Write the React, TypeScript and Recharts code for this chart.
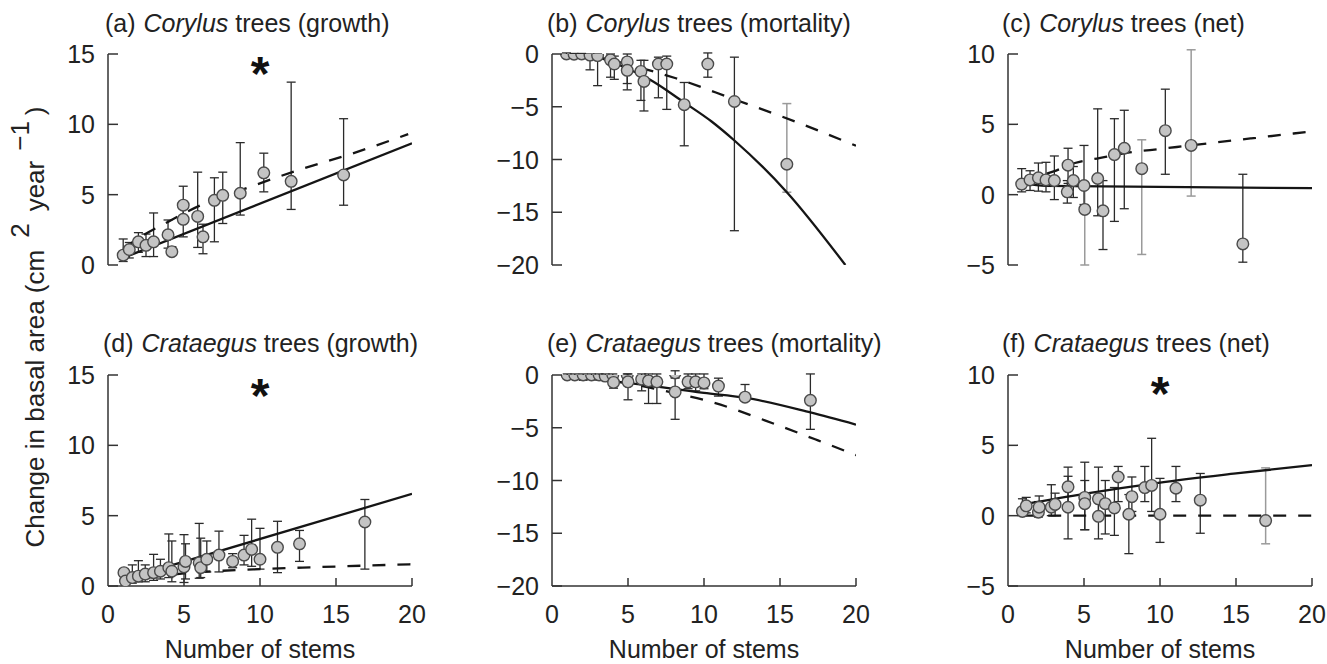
import React from 'react';
import { ComposedChart, Scatter, Line, XAxis, YAxis, ErrorBar } from 'recharts';

// Each point: [number of stems, mean change, lower bound, upper bound]
type Pt = [number, number, number, number];
// Fitted curve vertices: [number of stems, change]
type XY = [number, number];

const FONT = '"Liberation Sans", Arial, Helvetica, sans-serif';
const AXIS = '#333';

const xTicks = [0, 5, 10, 15, 20];
const growthTicks = [0, 5, 10, 15];
const mortalityTicks = [-20, -15, -10, -5, 0];
const netTicks = [-5, 0, 5, 10];

// ---- (a) Corylus growth ----
const corylusGrowthPoints: Pt[] = [
  [1.0, 0.7, 0.25, 1.85], [1.4, 1.1, 0.5, 1.6], [2.0, 1.65, 0.9, 2.3], [2.5, 1.4, 0.6, 2.2],
  [3.0, 1.65, 0.6, 3.7], [3.95, 2.15, 1.2, 3.2], [4.2, 0.95, 0.7, 1.3], [4.95, 4.25, 3.0, 5.6],
  [4.95, 3.25, 2.0, 4.0], [5.9, 3.45, 1.25, 6.6], [6.25, 2.0, 0.8, 2.9], [7.0, 4.6, 1.65, 6.2],
  [7.55, 4.95, 2.95, 6.6], [8.7, 5.1, 3.55, 8.7], [10.25, 6.55, 5.2, 7.95], [12.05, 5.95, 3.95, 13.0],
  [15.5, 6.4, 4.25, 10.4],
];
const corylusGrowthSolid: XY[] = [[1, 0.5], [20, 8.65]];
const corylusGrowthDashed: XY[] = [[1, 1.15], [2, 1.9], [4, 3.1], [6, 4.2], [8.7, 5.3], [12.4, 6.7], [16, 7.9], [19.75, 9.3]];

// ---- (b) Corylus mortality ----
const corylusMortalityPoints: Pt[] = [
  [0.95, 0, -0.15, 0.1], [1.45, -0.02, -0.2, 0.05], [1.95, 0, -0.3, 0.05], [2.5, -0.1, -1.5, 0],
  [3.0, -0.15, -3.0, 0], [3.85, -0.55, -2.2, 0], [4.1, -0.95, -2.4, -0.2], [4.95, -0.75, -3.4, 0],
  [4.95, -1.55, -2.8, -0.4], [5.85, -1.65, -4.4, -0.6], [6.05, -2.6, -5.4, -0.6], [7.0, -0.95, -4.15, -0.3],
  [7.55, -0.95, -5.25, -0.2], [8.7, -4.8, -8.7, -2.7], [10.25, -0.95, -2.2, 0.1], [12.0, -4.5, -16.75, -0.3],
];
const corylusMortalityGreyBars: Pt[] = [[15.45, -10.45, -13.1, -4.7]];
const corylusMortalitySolid: XY[] = [[1, 0], [2, -0.05], [3, -0.3], [4, -0.8], [5, -1.4], [6.4, -2.4], [8.7, -4.6], [10.5, -6.4], [12, -8.2], [15.45, -13.1], [19.3, -20]];
const corylusMortalityDashed: XY[] = [[1, 0], [3, -0.3], [5, -1.0], [8.15, -2.3], [12, -4.3], [16, -6.4], [20, -8.7]];

// ---- (c) Corylus net ----
const corylusNetPoints: Pt[] = [
  [0.9, 0.75, 0.2, 1.85], [1.45, 1.05, 0.3, 1.7], [2.0, 1.2, 0.25, 2.25], [2.5, 1.05, 0.2, 2.3],
  [3.05, 1.0, -0.35, 2.75], [3.95, 2.1, 0.8, 3.3], [3.9, 0.2, -0.6, 1.0], [4.3, 1.0, -0.2, 2.0],
  [5.0, 0.65, -0.7, 3.5], [5.9, 1.15, -1.5, 6.1], [6.25, -1.15, -3.9, 1.0], [7.0, 2.85, -1.9, 5.4],
  [7.65, 3.3, -1.0, 6.0], [10.35, 4.55, 1.45, 7.5], [15.45, -3.5, -4.8, 1.45],
];
const corylusNetGreyBars: Pt[] = [[5.05, -1.05, -5.0, 0.5], [8.8, 1.85, -4.25, 3.9], [12.05, 3.5, -0.1, 10.3]];
const corylusNetSolid: XY[] = [[1, 0.8], [2.5, 0.62], [20, 0.47]];
const corylusNetDashed: XY[] = [[1, 0.9], [2, 1.3], [3, 1.65], [4.4, 2.25], [6, 2.6], [8, 3.0], [10, 3.25], [12, 3.5], [16, 4.0], [20, 4.5]];

// ---- (d) Crataegus growth ----
const crataegusGrowthPoints: Pt[] = [
  [1.05, 0.95, 0.3, 1.2], [1.15, 0.35, 0.1, 0.9], [1.6, 0.6, 0.2, 1.5], [2.0, 0.7, 0.3, 1.8],
  [2.45, 0.85, 0.3, 1.5], [3.0, 0.95, 0.4, 2.25], [3.45, 1.05, 0.5, 1.9], [4.0, 1.3, 0.6, 3.7],
  [4.2, 1.05, 0.3, 3.2], [5.0, 1.35, 0.25, 3.65], [5.1, 1.75, 0.5, 3.0], [6.0, 1.65, 0.55, 4.45],
  [6.1, 1.3, 0.6, 3.4], [6.5, 1.9, 1.0, 3.2], [7.3, 2.2, 1.0, 3.9], [8.2, 1.75, 1.3, 2.3],
  [8.95, 2.2, 1.5, 3.6], [9.45, 2.6, 1.4, 4.75], [10.0, 1.9, 1.2, 4.1], [11.15, 2.75, 0.95, 4.6],
  [12.6, 3.0, 1.75, 3.95], [16.9, 4.55, 1.2, 6.15],
];
const crataegusGrowthSolid: XY[] = [[1, 0.45], [20, 6.55]];
const crataegusGrowthDashed: XY[] = [[1, 0.3], [3, 0.65], [5, 0.9], [7, 1.05], [10, 1.2], [14, 1.35], [20, 1.55]];

// ---- (e) Crataegus mortality ----
const crataegusMortalityPoints: Pt[] = [
  [1.0, 0, -0.3, 0.1], [1.5, 0, -0.3, 0.1], [2.05, 0, -0.5, 0.1], [2.6, 0, -0.3, 0.1],
  [3.1, 0, -0.4, 0.1], [3.5, -0.1, -0.5, 0.1], [4.0, 0, -0.6, 0.1], [4.05, -0.7, -1.25, -0.2],
  [4.95, 0, -0.6, 0.1], [5.0, -0.65, -2.35, 0.1], [5.9, -0.4, -1.5, 0.1], [6.35, -0.55, -2.7, 0.1],
  [6.9, -0.65, -2.7, 0.1], [8.1, 0.2, -0.2, 0.4], [8.1, -1.6, -4.2, -0.3], [8.95, -0.65, -1.3, 0.1],
  [9.45, -0.65, -1.5, 0.1], [10.0, -0.75, -1.3, 0.1], [10.95, -1.05, -2.0, -0.3], [12.7, -2.1, -2.4, -0.9],
  [17.0, -2.4, -5.15, 0.1],
];
const crataegusMortalitySolid: XY[] = [[1, -0.15], [5, -0.75], [10, -1.7], [12.7, -2.15], [17, -3.55], [20, -4.7]];
const crataegusMortalityDashed: XY[] = [[1, -0.1], [5, -0.8], [8, -1.7], [10.6, -2.6], [14, -4.3], [17.5, -6.2], [20, -7.6]];

// ---- (f) Crataegus net ----
const crataegusNetPoints: Pt[] = [
  [0.95, 0.3, 0.0, 1.2], [1.2, 0.7, 0.2, 1.3], [2.0, 0.25, -0.1, 1.0], [2.05, 0.6, 0.1, 1.4],
  [2.85, 0.6, 0.0, 2.2], [3.1, 0.8, 0.0, 1.6], [3.95, 2.05, 0.8, 3.45], [3.95, 0.6, -1.65, 2.8],
  [5.05, 1.3, -1.0, 3.8], [5.05, 0.85, -1.0, 2.5], [5.95, 1.2, 0.0, 3.45], [5.95, -0.05, -1.65, 1.5],
  [6.4, 0.85, -1.3, 2.5], [7.0, 0.55, -1.4, 2.0], [7.25, 2.75, 1.0, 3.5], [7.95, 0.1, -2.7, 1.5],
  [8.15, 1.35, 0.3, 2.75], [9.0, 2.0, 1.0, 3.5], [9.45, 2.15, 0.3, 5.5], [10.0, 0.1, -1.9, 2.65],
  [11.05, 1.95, 1.0, 3.5], [12.65, 1.1, -1.25, 3.0],
];
const crataegusNetGreyBars: Pt[] = [[16.95, -0.35, -2.0, 3.4]];
const crataegusNetSolid: XY[] = [[1, 0.8], [5, 1.55], [10, 2.35], [15, 3.0], [20, 3.6]];
const crataegusNetDashed: XY[] = [[1, 0], [20, 0]];

const toRows = (pts: Pt[]) => pts.map(([x, y, lo, hi]) => ({ x, y, err: [y - lo, hi - y] }));
const toLine = (pts: XY[]) => pts.map(([x, y]) => ({ x, y }));
const fmt = (v: number) => (v < 0 ? `\u2212${Math.abs(v)}` : `${v}`);

const Y_GAP = 13;
const X_GAP = 19;

const YTick = (props: any) => {
  const { x, y, payload } = props;
  const ax = x + Y_GAP;
  return (
    <g>
      <line x1={ax} x2={ax + 10} y1={y} y2={y} stroke={AXIS} strokeWidth={1.5} />
      <text x={x} y={y} dy="0.36em" textAnchor="end" fontSize={25} fill="#222" fontFamily={FONT}>
        {fmt(payload.value)}
      </text>
    </g>
  );
};

const XTick = (props: any) => {
  const { x, y, payload } = props;
  const ay = y - X_GAP;
  return (
    <g>
      {payload.value !== 0 && <line x1={x} x2={x} y1={ay} y2={ay - 8} stroke={AXIS} strokeWidth={1.5} />}
      <text x={x} y={y} dy="0.71em" textAnchor="middle" fontSize={25} fill="#222" fontFamily={FONT}>
        {payload.value}
      </text>
    </g>
  );
};

const Dot = (props: any) => (
  <circle cx={props.cx} cy={props.cy} r={5.8} fill="#c4c4c4" stroke="#4a4a4a" strokeWidth={1.4} />
);

type PanelProps = {
  left: number;
  top: number;
  domain: [number, number];
  ticks: number[];
  points: Pt[];
  greyBars?: Pt[];
  solid: XY[];
  dashed: XY[];
  showX: boolean;
};

const PLOT_W = 304;
const PLOT_H = 211;
const Y_W = 90;
const M_TOP = 22;
const X_H = 50;
const M_RIGHT = 16;

function Panel({ left, top, domain, ticks, points, greyBars, solid, dashed, showX }: PanelProps) {
  return (
    <div style={{ position: 'absolute', left: left - Y_W, top: top - M_TOP }}>
      <ComposedChart
        width={PLOT_W + Y_W + M_RIGHT}
        height={PLOT_H + M_TOP + X_H}
        margin={{ top: M_TOP, right: M_RIGHT, bottom: 0, left: 0 }}
      >
        <XAxis
          type="number"
          dataKey="x"
          domain={[0, 20]}
          ticks={xTicks}
          interval={0}
          allowDataOverflow
          height={X_H}
          tickSize={0}
          tickMargin={X_GAP}
          axisLine={showX ? { stroke: AXIS, strokeWidth: 1.5 } : false}
          tickLine={false}
          tick={showX ? <XTick /> : false}
        />
        <YAxis
          type="number"
          dataKey="y"
          domain={domain}
          ticks={ticks}
          interval={0}
          allowDataOverflow
          width={Y_W}
          tickSize={0}
          tickMargin={Y_GAP}
          axisLine={{ stroke: AXIS, strokeWidth: 1.5 }}
          tickLine={false}
          tick={<YTick />}
        />
        {greyBars && (
          <Scatter data={toRows(greyBars)} isAnimationActive={false} shape={Dot}>
            <ErrorBar dataKey="err" direction="y" width={4.5} stroke="#9a9a9a" strokeWidth={1.5} />
          </Scatter>
        )}
        <Scatter data={toRows(points)} isAnimationActive={false} shape={Dot}>
          <ErrorBar dataKey="err" direction="y" width={4.5} stroke="#2a2a2a" strokeWidth={1.3} />
        </Scatter>
        <Line
          data={toLine(solid)}
          dataKey="y"
          type="monotone"
          stroke="#151515"
          strokeWidth={2.3}
          dot={false}
          activeDot={false}
          isAnimationActive={false}
        />
        <Line
          data={toLine(dashed)}
          dataKey="y"
          type="monotone"
          stroke="#151515"
          strokeWidth={2.3}
          strokeDasharray="13 12"
          dot={false}
          activeDot={false}
          isAnimationActive={false}
        />
      </ComposedChart>
    </div>
  );
}

const titles = [
  { x: 105, y: 32, tag: '(a)', genus: 'Corylus', rest: ' trees (growth)' },
  { x: 547, y: 32, tag: '(b)', genus: 'Corylus', rest: ' trees (mortality)' },
  { x: 1002, y: 32, tag: '(c)', genus: 'Corylus', rest: ' trees (net)' },
  { x: 103, y: 352, tag: '(d)', genus: 'Crataegus', rest: ' trees (growth)' },
  { x: 547, y: 352, tag: '(e)', genus: 'Crataegus', rest: ' trees (mortality)' },
  { x: 1002, y: 352, tag: '(f)', genus: 'Crataegus', rest: ' trees (net)' },
];

const stars = [
  { x: 260, y: 63 },
  { x: 260, y: 385 },
  { x: 1160, y: 383 },
];

export default function App() {
  return (
    <div style={{ position: 'absolute', left: 0, top: 0, width: 1327, height: 664, background: '#fff', overflow: 'hidden' }}>
      <Panel left={108} top={54} domain={[0, 15]} ticks={growthTicks} points={corylusGrowthPoints} solid={corylusGrowthSolid} dashed={corylusGrowthDashed} showX={false} />
      <Panel left={552} top={54} domain={[-20, 0]} ticks={mortalityTicks} points={corylusMortalityPoints} greyBars={corylusMortalityGreyBars} solid={corylusMortalitySolid} dashed={corylusMortalityDashed} showX={false} />
      <Panel left={1008} top={54} domain={[-5, 10]} ticks={netTicks} points={corylusNetPoints} greyBars={corylusNetGreyBars} solid={corylusNetSolid} dashed={corylusNetDashed} showX={false} />
      <Panel left={108} top={375} domain={[0, 15]} ticks={growthTicks} points={crataegusGrowthPoints} solid={crataegusGrowthSolid} dashed={crataegusGrowthDashed} showX />
      <Panel left={552} top={375} domain={[-20, 0]} ticks={mortalityTicks} points={crataegusMortalityPoints} solid={crataegusMortalitySolid} dashed={crataegusMortalityDashed} showX />
      <Panel left={1008} top={375} domain={[-5, 10]} ticks={netTicks} points={crataegusNetPoints} greyBars={crataegusNetGreyBars} solid={crataegusNetSolid} dashed={crataegusNetDashed} showX />

      <svg width={1327} height={664} style={{ position: 'absolute', left: 0, top: 0, pointerEvents: 'none' }} fontFamily={FONT} fill="#222">
        {titles.map((t) => (
          <text key={t.tag} x={t.x} y={t.y} fontSize={25}>
            {t.tag}
            <tspan dx={8} fontStyle="italic">{t.genus}</tspan>
            <tspan>{t.rest}</tspan>
          </text>
        ))}
        {stars.map((s, i) => (
          <text key={i} x={s.x} y={s.y + 27} fontSize={48} fontWeight="bold" textAnchor="middle" fill="#111">
            *
          </text>
        ))}
        {[260, 704, 1160].map((cx) => (
          <text key={cx} x={cx} y={658} fontSize={25} textAnchor="middle">
            Number of stems
          </text>
        ))}
        <text transform="translate(44, 327) rotate(-90)" x={0} y={0} fontSize={26} textAnchor="middle">
          Change in basal area (cm
          <tspan dx={12} dy={-15}>2</tspan>
          <tspan dx={12} dy={15}>year</tspan>
          <tspan dx={10} dy={-15}>{'\u22121'}</tspan>
          <tspan dx={6} dy={15}>)</tspan>
        </text>
      </svg>
    </div>
  );
}
